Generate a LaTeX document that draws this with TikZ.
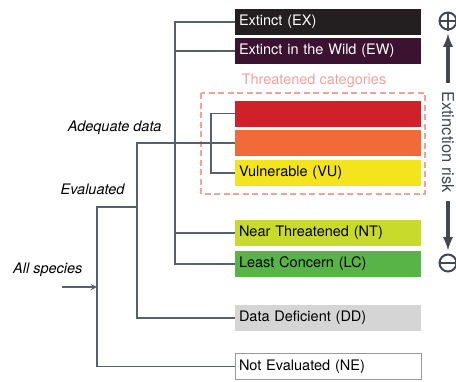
\documentclass[tikz,border=0pt]{standalone}
\usepackage{fontspec}
\setmainfont{TeX Gyre Heros}
\usetikzlibrary{arrows}
\definecolor{linegray}{HTML}{56626A}
\definecolor{exblack}{HTML}{231F20}
\definecolor{ewpurple}{HTML}{3B1330}
\definecolor{crred}{HTML}{D0202A}
\definecolor{enorange}{HTML}{F06B38}
\definecolor{vuyellow}{HTML}{F4E41C}
\definecolor{ntgreen}{HTML}{C8DA2C}
\definecolor{lcgreen}{HTML}{58B447}
\definecolor{ddgray}{HTML}{D5D5D5}
\definecolor{negray}{HTML}{9A9A9A}
\definecolor{salmon}{HTML}{F4A19B}
\definecolor{riskgray}{HTML}{414A52}
\newcommand{\labfont}{\fontsize{14.5}{17}\selectfont}
\tikzset{
  catbox/.style={minimum width=186pt, minimum height=26pt, text width=178pt,
    align=left, inner xsep=4pt, inner ysep=0pt, font=\labfont},
  tree/.style={draw=linegray, line width=1.8pt},
  sign/.style={draw=riskgray, circle, minimum size=17pt, inner sep=0pt, line width=2pt}
}

\begin{document}
\begin{tikzpicture}[x=1pt, y=-1pt, every node/.style={font=\labfont}]
    \useasboundingbox (0,0) rectangle (456,381);
    % categories
    \foreach \n/\y/\f/\c/\t in {ex/22/exblack/white/Extinct (EX),
        ew/51/ewpurple/white/Extinct in the Wild (EW),
        cr/113.5/crred/white/, en/143/enorange/white/,
        vu/173/vuyellow/black/Vulnerable (VU),
        nt/233/ntgreen/black/Near Threatened (NT),
        lc/264/lcgreen/black/Least Concern (LC),
        dd/318/ddgray/black/Data Deficient (DD)}
    \node[catbox, fill=\f, text=\c] (\n) at (328,\y) {\t};
    \node[catbox, fill=white, draw=negray, line width=1pt, minimum width=185pt] (ne) at (328,366.5) {Not Evaluated (NE)};
    % threatened frame
    \draw[salmon, line width=2.5pt, dash pattern=on 6pt off 3.5pt] (201,93) rectangle (425,194);
    \node[text=salmon] (thr) at (314,81) {Threatened categories};
    % tree
    \draw[tree] (ex.west) -- ++(-60,0) |- (lc.west);
    \draw[tree] (ew.west) -- ++(-60,0);
    \draw[tree] (nt.west) -- ++(-60,0);
    \draw[tree] (cr.west) -- ++(-24,0) |- (vu.west);
    \draw[tree] (en.west) -- ++(-98,0) |- (dd.west);
    \coordinate (evl) at (137,207);
    \draw[tree] (evl) -- ++(-40,0) |- (ne.west);
    \coordinate (start) at (62,287);
    \coordinate (allsp) at (97,287);
    \draw[tree, -stealth] (start) -- (allsp);
    \node[anchor=east, font=\labfont\itshape] (adq) at (165,128) {Adequate data};
    \node[anchor=east, font=\labfont\itshape] (eva) at (128,189) {Evaluated};
    \node[anchor=east, font=\labfont\itshape] (all) at (86,270) {All species};
    % extinction risk
    \node[sign] (plus) at (448,21) {};
    \draw[riskgray, line width=2pt] (plus.north) -- (plus.south) (plus.west) -- (plus.east);
    \node[sign] (minus) at (448,263) {};
    \draw[riskgray, line width=2pt] (minus.west) -- (minus.east);
    \node[rotate=-90, text=riskgray, font=\fontsize{16.5}{19}\selectfont] (risk) at (448,142) {Extinction risk};
    \draw[riskgray, line width=3.5pt, -latex] (risk.west) ++(0,-5) -- ([yshift=-3pt]plus.south);
    \draw[riskgray, line width=3.5pt, -latex] (risk.east) ++(0,5) -- ([yshift=3pt]minus.north);
\end{tikzpicture}
\end{document}
